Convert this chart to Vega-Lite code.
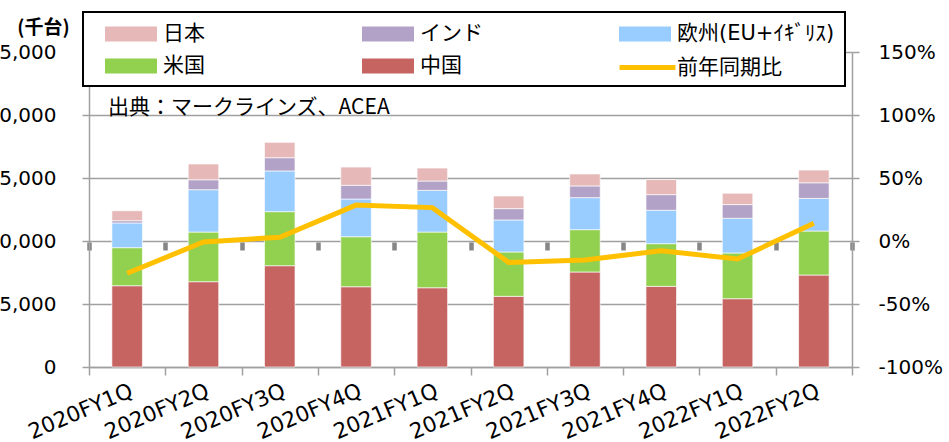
{
  "$schema": "https://vega.github.io/schema/vega-lite/v6.json",
  "width": 763,
  "height": 315,
  "autosize": {"type": "none"},
  "padding": {"left": 89, "top": 52, "right": 97, "bottom": 75},
  "background": "white",
  "title": {
    "text": "出典：マークラインズ、ACEA",
    "anchor": "start",
    "frame": "group",
    "orient": "top",
    "offset": 0,
    "dx": 19,
    "dy": 107,
    "font": "Noto Sans CJK JP",
    "fontSize": 21,
    "fontWeight": "normal",
    "color": "#000000"
  },
  "datasets": {
    "sales": [
      {"q": "2020FY1Q", "series": "中国", "value": 6450},
      {"q": "2020FY1Q", "series": "米国", "value": 3020},
      {"q": "2020FY1Q", "series": "欧州(EU+ｲｷﾞﾘｽ)", "value": 1960},
      {"q": "2020FY1Q", "series": "インド", "value": 180},
      {"q": "2020FY1Q", "series": "日本", "value": 790},
      {"q": "2020FY2Q", "series": "中国", "value": 6770},
      {"q": "2020FY2Q", "series": "米国", "value": 3940},
      {"q": "2020FY2Q", "series": "欧州(EU+ｲｷﾞﾘｽ)", "value": 3360},
      {"q": "2020FY2Q", "series": "インド", "value": 790},
      {"q": "2020FY2Q", "series": "日本", "value": 1250},
      {"q": "2020FY3Q", "series": "中国", "value": 8040},
      {"q": "2020FY3Q", "series": "米国", "value": 4290},
      {"q": "2020FY3Q", "series": "欧州(EU+ｲｷﾞﾘｽ)", "value": 3230},
      {"q": "2020FY3Q", "series": "インド", "value": 1050},
      {"q": "2020FY3Q", "series": "日本", "value": 1220},
      {"q": "2020FY4Q", "series": "中国", "value": 6370},
      {"q": "2020FY4Q", "series": "米国", "value": 3970},
      {"q": "2020FY4Q", "series": "欧州(EU+ｲｷﾞﾘｽ)", "value": 2990},
      {"q": "2020FY4Q", "series": "インド", "value": 1090},
      {"q": "2020FY4Q", "series": "日本", "value": 1450},
      {"q": "2021FY1Q", "series": "中国", "value": 6290},
      {"q": "2021FY1Q", "series": "米国", "value": 4420},
      {"q": "2021FY1Q", "series": "欧州(EU+ｲｷﾞﾘｽ)", "value": 3310},
      {"q": "2021FY1Q", "series": "インド", "value": 740},
      {"q": "2021FY1Q", "series": "日本", "value": 1030},
      {"q": "2021FY2Q", "series": "中国", "value": 5610},
      {"q": "2021FY2Q", "series": "米国", "value": 3520},
      {"q": "2021FY2Q", "series": "欧州(EU+ｲｷﾞﾘｽ)", "value": 2540},
      {"q": "2021FY2Q", "series": "インド", "value": 900},
      {"q": "2021FY2Q", "series": "日本", "value": 1000},
      {"q": "2021FY3Q", "series": "中国", "value": 7540},
      {"q": "2021FY3Q", "series": "米国", "value": 3360},
      {"q": "2021FY3Q", "series": "欧州(EU+ｲｷﾞﾘｽ)", "value": 2540},
      {"q": "2021FY3Q", "series": "インド", "value": 930},
      {"q": "2021FY3Q", "series": "日本", "value": 950},
      {"q": "2021FY4Q", "series": "中国", "value": 6400},
      {"q": "2021FY4Q", "series": "米国", "value": 3390},
      {"q": "2021FY4Q", "series": "欧州(EU+ｲｷﾞﾘｽ)", "value": 2650},
      {"q": "2021FY4Q", "series": "インド", "value": 1240},
      {"q": "2021FY4Q", "series": "日本", "value": 1190},
      {"q": "2022FY1Q", "series": "中国", "value": 5420},
      {"q": "2022FY1Q", "series": "米国", "value": 3630},
      {"q": "2022FY1Q", "series": "欧州(EU+ｲｷﾞﾘｽ)", "value": 2750},
      {"q": "2022FY1Q", "series": "インド", "value": 1090},
      {"q": "2022FY1Q", "series": "日本", "value": 900},
      {"q": "2022FY2Q", "series": "中国", "value": 7300},
      {"q": "2022FY2Q", "series": "米国", "value": 3490},
      {"q": "2022FY2Q", "series": "欧州(EU+ｲｷﾞﾘｽ)", "value": 2590},
      {"q": "2022FY2Q", "series": "インド", "value": 1240},
      {"q": "2022FY2Q", "series": "日本", "value": 1010}
    ],
    "yoy": [
      {"q": "2020FY1Q", "pct": -25.6},
      {"q": "2020FY2Q", "pct": -0.8},
      {"q": "2020FY3Q", "pct": 3},
      {"q": "2020FY4Q", "pct": 28.5},
      {"q": "2021FY1Q", "pct": 26.5},
      {"q": "2021FY2Q", "pct": -17},
      {"q": "2021FY3Q", "pct": -15},
      {"q": "2021FY4Q", "pct": -7.7},
      {"q": "2022FY1Q", "pct": -14.3},
      {"q": "2022FY2Q", "pct": 14}
    ]
  },
  "resolve": {"scale": {"y": "independent"}, "axis": {"x": "independent"}},
  "layer": [
    {
      "data": {"name": "sales"},
      "transform": [
        {"calculate": "indexof(['中国','米国','欧州(EU+ｲｷﾞﾘｽ)','インド','日本'], datum.series)", "as": "stackrank"}
      ],
      "mark": {"type": "bar", "width": {"band": 0.4}, "stroke": "#ffffff", "strokeWidth": 0.8, "strokeOpacity": 0.8},
      "encoding": {
        "x": {
          "field": "q", "type": "nominal", "sort": null,
          "scale": {"paddingInner": 0, "paddingOuter": 0},
          "axis": {
            "orient": "bottom", "title": null, "labelAngle": -23,
            "labelFont": "DejaVu Sans", "labelFontSize": 21.5, "labelColor": "#000000",
            "labelPadding": 5,
            "tickBand": "extent", "tickSize": 8, "tickColor": "#a0a0a0", "tickWidth": 1.5,
            "domainColor": "#a0a0a0", "domainWidth": 1.5, "grid": false
          }
        },
        "y": {
          "field": "value", "type": "quantitative", "stack": "zero",
          "scale": {"domain": [0, 25000], "nice": false},
          "axis": {
            "values": [0, 5000, 10000, 15000, 20000, 25000],
            "format": ",.0f",
            "title": "(千台)",
            "titleAngle": 0, "titleX": -46, "titleY": -25,
            "titleAlign": "center", "titleBaseline": "middle",
            "titleFont": "Noto Sans CJK JP", "titleFontSize": 19, "titleFontWeight": "bold", "titleColor": "#000000",
            "labelFont": "DejaVu Sans", "labelFontSize": 20, "labelColor": "#000000",
            "labelPadding": 26,
            "tickSize": 7, "tickColor": "#a0a0a0", "tickWidth": 1.5,
            "domainColor": "#a0a0a0", "domainWidth": 1.5,
            "grid": true, "gridColor": "#a0a0a0", "gridWidth": 1.5
          }
        },
        "color": {
          "field": "series", "type": "nominal",
          "scale": {
            "domain": ["日本", "米国", "インド", "中国", "欧州(EU+ｲｷﾞﾘｽ)"],
            "range": ["#E6B9B8", "#92D050", "#B3A2C7", "#C66462", "#99CCFF"]
          },
          "legend": {
            "orient": "none", "legendX": -6, "legendY": -40,
            "columns": 3, "title": null, "gridAlign": "all",
            "symbolType": "M-2.1667,-0.625h4.3333v1.25h-4.3333z",
            "symbolSize": 576, "symbolStrokeWidth": 0, "symbolOffset": 26,
            "labelFont": "DejaVu Sans, Noto Sans CJK JP", "labelFontSize": 21, "labelColor": "#000000",
            "labelOffset": 20, "labelLimit": 400,
            "rowPadding": 10, "columnPadding": 29, "padding": 10,
            "strokeColor": "#000000", "fillColor": "#ffffff"
          }
        },
        "order": {"field": "stackrank", "type": "quantitative", "sort": "ascending"}
      }
    },
    {
      "layer": [
        {
          "mark": {"type": "rule", "color": "#868686", "strokeWidth": 4},
          "encoding": {"y": {"datum": 0, "type": "quantitative"}}
        },
        {
          "data": {"name": "yoy"},
          "mark": {"type": "line", "strokeWidth": 5, "strokeJoin": "miter", "strokeCap": "butt"},
          "encoding": {
            "x": {
              "field": "q", "type": "nominal", "sort": null,
              "axis": {
                "orient": "bottom", "offset": -125, "title": null, "labels": false,
                "domain": false, "grid": false,
                "tickBand": "extent", "tickSize": 8, "tickColor": "#868686", "tickWidth": 4.5
              }
            },
            "y": {
              "field": "pct", "type": "quantitative",
              "scale": {"domain": [-100, 150], "nice": false},
              "axis": {
                "orient": "right", "title": null,
                "values": [-100, -50, 0, 50, 100, 150],
                "labelExpr": "datum.value + '%'",
                "labelFont": "DejaVu Sans", "labelFontSize": 20, "labelColor": "#000000",
                "labelPadding": 19,
                "tickSize": 7, "tickColor": "#a0a0a0", "tickWidth": 1.5,
                "domainColor": "#a0a0a0", "domainWidth": 1.5, "grid": false
              }
            },
            "stroke": {
              "datum": "前年同期比",
              "scale": {"range": ["#FFC000"]},
              "legend": {
                "orient": "none", "legendX": 544, "legendY": 1,
                "title": null,
                "symbolType": "M-2.33,0h4.66",
                "symbolSize": 576, "symbolStrokeWidth": 5, "symbolOffset": 0,
                "labelFont": "DejaVu Sans, Noto Sans CJK JP", "labelFontSize": 21, "labelColor": "#000000",
                "labelOffset": 15, "padding": 0
              }
            }
          }
        }
      ]
    }
  ],
  "config": {
    "view": {"stroke": null},
    "legend": {"strokeWidth": 2}
  }
}
